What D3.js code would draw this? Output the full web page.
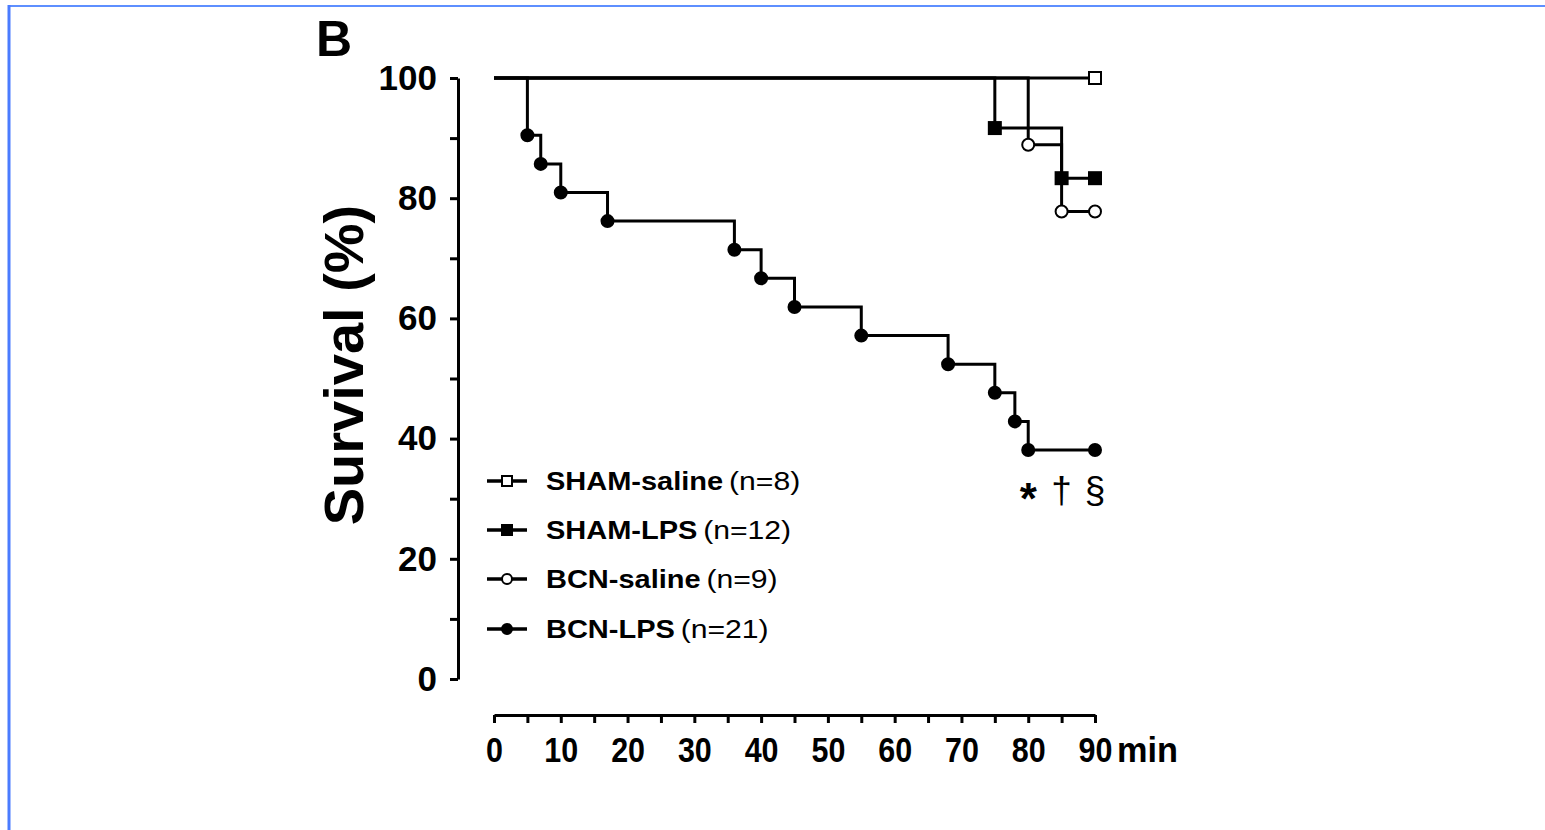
<!DOCTYPE html>
<html>
<head>
<meta charset="utf-8">
<script src="https://cdn.jsdelivr.net/npm/d3@7/dist/d3.min.js"></script>
<style>
  html, body { margin: 0; padding: 0; background: #fff; }
  svg { display: block; }
  text { font-family: "Liberation Sans", Arial, Helvetica, sans-serif; fill: #000; }
</style>
</head>
<body>
<svg id="chart" width="1545" height="830"></svg>
<script>
// Kaplan–Meier survival curves (time in min, survival in %)
const shamSalineTimes = [0, 90];
const shamSalineSurv  = [100, 100];

const shamLpsTimes = [0, 75, 85, 90];
const shamLpsSurv  = [100, 91.67, 83.33, 83.33];

const bcnSalineTimes = [0, 80, 85, 90];
const bcnSalineSurv  = [100, 88.89, 77.78, 77.78];

const bcnLpsTimes = [0, 5, 7, 10, 17, 36, 40, 45, 55, 68, 75, 78, 80, 90];
const bcnLpsSurv  = [100, 90.48, 85.71, 80.95, 76.19, 71.43, 66.67, 61.90, 57.14, 52.38, 47.62, 42.86, 38.10, 38.10];

const groupNames  = ["SHAM-saline", "SHAM-LPS", "BCN-saline", "BCN-LPS"];
const groupCounts = ["(n=8)", "(n=12)", "(n=9)", "(n=21)"];
const groupMarker = ["square", "square", "circle", "circle"];
const groupFilled = [false, true, false, true];

const xTickValues = d3.range(0, 91, 5);
const yTickValues = d3.range(0, 101, 10);
const significance = ["*", "\u2020", "\u00a7"];
const significanceAt = [80, 85, 90];

const panelLabel = "B";
const yTitle = "Survival (%)";
const xUnit = "min";

const series = [
  { t: shamSalineTimes, s: shamSalineSurv },
  { t: shamLpsTimes,    s: shamLpsSurv },
  { t: bcnSalineTimes,  s: bcnSalineSurv },
  { t: bcnLpsTimes,     s: bcnLpsSurv }
].map((d, i) => ({
  name: groupNames[i], n: groupCounts[i], marker: groupMarker[i], filled: groupFilled[i],
  pts: d.t.map((t, j) => ({ t, s: d.s[j] }))
}));

const svg = d3.select("#chart");

// frame lines along the top and left edges
svg.append("rect").attr("x", 8).attr("y", 5).attr("width", 1537).attr("height", 2).attr("fill", "#5e8fff");
svg.append("rect").attr("x", 7.5).attr("y", 5).attr("width", 3).attr("height", 825).attr("fill", "#4a7cff");

const x = d3.scaleLinear().domain([0, 90]).range([494, 1095]);
const y = d3.scaleLinear().domain([0, 100]).range([679, 78]);

const strokeW = 3;

// y axis (offset to the left of the plotting area)
const yAxis = svg.append("g")
  .attr("transform", "translate(458,0)")
  .call(d3.axisLeft(y).tickValues(yTickValues).tickSize(8).tickSizeOuter(0).tickPadding(13)
    .tickFormat(d => d % 20 === 0 ? d : ""));
yAxis.select(".domain").attr("stroke", "#000").attr("stroke-width", strokeW);
yAxis.selectAll(".tick line").attr("stroke", "#000").attr("stroke-width", strokeW);
yAxis.selectAll(".tick text")
  .style("font-family", "'Liberation Sans', Arial, sans-serif")
  .style("font-weight", "bold").style("font-size", "35px").attr("fill", "#000");

// x axis (offset below the plotting area), condensed digits
const xAxis = svg.append("g")
  .attr("transform", "translate(0,715)")
  .call(d3.axisBottom(x).tickValues(xTickValues).tickSize(8).tickSizeOuter(0).tickPadding(14)
    .tickFormat(d => d % 10 === 0 ? d : ""));
xAxis.select(".domain").attr("stroke", "#000").attr("stroke-width", strokeW);
xAxis.selectAll(".tick line").attr("stroke", "#000").attr("stroke-width", strokeW);
xAxis.selectAll(".tick text")
  .style("font-family", "'Liberation Sans', Arial, sans-serif")
  .style("font-weight", "bold").style("font-size", "35px").attr("fill", "#000")
  .attr("transform", "scale(0.87,1)");

svg.append("text")
  .attr("transform", `translate(${x(90) + 22},762) scale(0.98,1)`)
  .style("font-weight", "bold").style("font-size", "35px")
  .text(xUnit);

// y title
svg.append("text")
  .attr("transform", "translate(363,365) rotate(-90)")
  .attr("text-anchor", "middle")
  .style("font-weight", "bold").style("font-size", "56px")
  .text(yTitle);

// panel letter
svg.append("text")
  .attr("x", 316).attr("y", 56)
  .style("font-weight", "bold").style("font-size", "50px")
  .text(panelLabel);

// survival step curves
const line = d3.line().x(d => x(d.t)).y(d => y(d.s)).curve(d3.curveStepAfter);

const drawMarker = (g, type, filled, cx, cy, size) => {
  if (type === "square") {
    g.append("rect")
      .attr("x", cx - size / 2).attr("y", cy - size / 2)
      .attr("width", size).attr("height", size)
      .attr("fill", filled ? "#000" : "#fff").attr("stroke", "#000").attr("stroke-width", 2);
  } else {
    g.append("circle")
      .attr("cx", cx).attr("cy", cy).attr("r", size / 2)
      .attr("fill", filled ? "#000" : "#fff").attr("stroke", "#000").attr("stroke-width", 2);
  }
};

const curves = svg.append("g");
series.forEach(sr => {
  curves.append("path")
    .attr("d", line(sr.pts))
    .attr("fill", "none").attr("stroke", "#000").attr("stroke-width", strokeW);
});
series.forEach(sr => {
  sr.pts.slice(1).forEach(p => drawMarker(curves, sr.marker, sr.filled, x(p.t), y(p.s), 12));
});

// significance marks under the BCN-LPS end point
svg.append("g").selectAll("text")
  .data(significance)
  .join("text")
  .attr("x", (d, i) => x(significanceAt[i]))
  .attr("y", (d, i) => i === 0 ? 514 : 503)
  .attr("text-anchor", "middle")
  .style("font-size", (d, i) => i === 0 ? "44px" : "37px")
  .style("font-weight", (d, i) => i === 0 ? "bold" : "normal")
  .text(d => d);

// legend
const legendRowY = [481, 530, 579, 629];
const legend = svg.append("g");
series.forEach((sr, i) => {
  const gy = legendRowY[i];
  const row = legend.append("g");
  row.append("line")
    .attr("x1", 487).attr("x2", 527).attr("y1", gy).attr("y2", gy)
    .attr("stroke", "#000").attr("stroke-width", 3.5);
  drawMarker(row, sr.marker, sr.filled, 507, gy, 10);
  const t = row.append("text")
    .attr("transform", `translate(546,${gy + 9}) scale(1.16,1)`)
    .style("font-size", "25px");
  t.append("tspan").style("font-weight", "bold").text(sr.name);
  t.append("tspan").attr("dx", 5).style("font-size", "26px").style("font-weight", "normal").text(sr.n);
});
</script>
</body>
</html>
